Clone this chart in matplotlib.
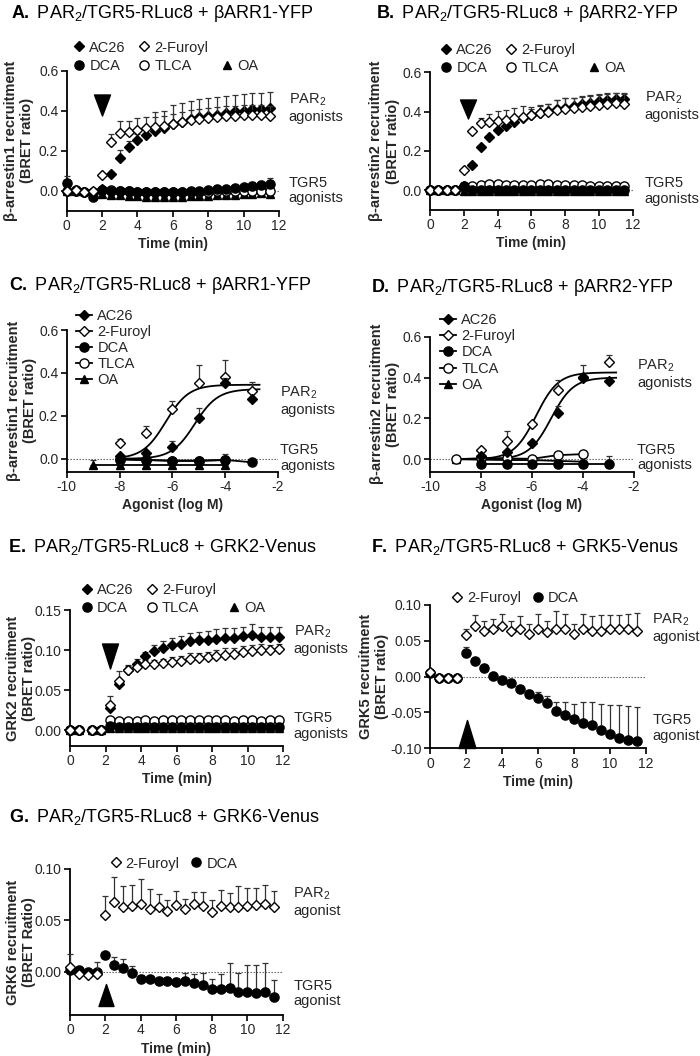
import numpy as np
import matplotlib.pyplot as plt
from matplotlib.lines import Line2D
from matplotlib.path import Path
from matplotlib.ticker import FormatStrFormatter

plt.rcParams['font.family'] = ['Liberation Sans', 'DejaVu Sans']
plt.rcParams['mathtext.fontset'] = 'custom'
plt.rcParams['mathtext.rm'] = 'Liberation Sans'
plt.rcParams['mathtext.bf'] = 'Liberation Sans:bold'
plt.rcParams['mathtext.it'] = 'Liberation Sans:italic'
plt.rcParams['axes.unicode_minus'] = False

# ---------------- data ----------------
# time points (min) for A, B, F, G
t_min = [0, 0.5, 1, 1.5, 2, 2.5, 3, 3.5, 4, 4.5, 5, 5.5,
         6, 6.5, 7, 7.5, 8, 8.5, 9, 9.5, 10, 10.5, 11, 11.5]
# time points (min) for E
t_min_e = [0, 0.5, 1.25, 1.75, 2.25, 2.75, 3.25, 3.75, 4.25, 4.75, 5.25, 5.75,
           6.25, 6.75, 7.25, 7.75, 8.25, 8.75, 9.25, 9.75, 10.25, 10.75, 11.25, 11.75]

# A: beta-arrestin1 time course
a_ac26 = [0.0, 0.0, -0.005, -0.01, 0.01, 0.085, 0.165, 0.22, 0.255, 0.28, 0.30, 0.315,
          0.335, 0.345, 0.36, 0.37, 0.375, 0.38, 0.39, 0.40, 0.40, 0.41, 0.41, 0.415]
a_ac26_err = [0, 0, 0, 0, 0, 0.01, 0.04, 0.03, 0.03, 0.03, 0.095, 0.085,
              0.095, 0.095, 0.09, 0.09, 0.09, 0.09, 0.085, 0.08, 0.085, 0.08, 0.08, 0.08]
a_furoyl = [0.0, 0.005, -0.005, -0.002, 0.078, 0.245, 0.29, 0.295, 0.305, 0.315, 0.32, 0.325,
            0.335, 0.345, 0.355, 0.36, 0.365, 0.37, 0.375, 0.375, 0.38, 0.38, 0.38, 0.375]
a_furoyl_err = [0, 0, 0, 0, 0, 0.04, 0.06, 0.055, 0.06, 0.055, 0.05, 0.05,
                0.05, 0.05, 0.05, 0.05, 0.05, 0.05, 0.05, 0.05, 0.05, 0.05, 0.05, 0.05]
a_dca = [0.04, 0.005, -0.005, -0.03, 0.005, 0.0, 0.0, 0.0, -0.005, -0.005, -0.005, -0.005,
         -0.005, -0.005, 0.0, 0.0, 0.005, 0.01, 0.01, 0.015, 0.02, 0.025, 0.03, 0.035]
a_dca_err = [0.035, 0, 0, 0, 0, 0, 0, 0, 0, 0, 0, 0,
             0, 0, 0, 0, 0, 0, 0.005, 0.008, 0.01, 0.02, 0.02, 0.03]
a_tlca = [0.0, 0.0, -0.005, -0.005, 0.005, 0.005, -0.002, -0.003, -0.005, -0.005, -0.005, -0.005,
          -0.005, -0.005, -0.005, -0.005, -0.005, -0.004, -0.003, -0.002, 0.0, 0.0, 0.0, 0.0]
a_oa = [0.0, 0.0, 0.0, -0.01, -0.015, -0.02, -0.02, -0.025, -0.025, -0.03, -0.03, -0.03,
        -0.03, -0.03, -0.025, -0.025, -0.025, -0.02, -0.02, -0.02, -0.015, -0.015, -0.01, -0.015]
a_oa_err = [0, 0, 0, 0, 0.015, 0.02, 0.02, 0.02, 0.02, 0.02, 0.02, 0.02,
            0.02, 0.02, 0.02, 0.02, 0.02, 0.02, 0.02, 0.02, 0.02, 0.02, 0.02, 0.02]

# B: beta-arrestin2 time course
b_ac26 = [0.0, 0.0, 0.0, 0.0, 0.02, 0.13, 0.22, 0.27, 0.305, 0.325, 0.345, 0.37,
          0.385, 0.395, 0.405, 0.415, 0.42, 0.43, 0.44, 0.445, 0.455, 0.46, 0.465, 0.465]
b_ac26_err = [0, 0, 0, 0, 0, 0, 0, 0, 0, 0, 0, 0,
              0.03, 0.035, 0.035, 0.045, 0.05, 0.04, 0.037, 0.04, 0.035, 0.033, 0.03, 0.032]
b_furoyl = [0.0, 0.0, 0.0, 0.0, 0.105, 0.30, 0.34, 0.345, 0.35, 0.36, 0.37, 0.375,
            0.385, 0.395, 0.40, 0.41, 0.415, 0.42, 0.425, 0.43, 0.435, 0.44, 0.445, 0.44]
b_furoyl_err = [0, 0, 0, 0, 0, 0, 0.03, 0.045, 0.055, 0.05, 0.05, 0.055,
                0.04, 0.04, 0.04, 0.05, 0.055, 0.05, 0.05, 0.05, 0.05, 0.05, 0.05, 0.05]
b_dca = [0.0, 0.0, 0.0, 0.0, 0.02, 0.002, 0.002, 0.002, 0.003, 0.002, 0.002, 0.002,
         0.002, 0.002, 0.002, 0.002, 0.002, 0.002, 0.002, 0.002, 0.002, 0.002, 0.002, 0.002]
b_tlca = [0.0, 0.0, 0.0, 0.0, 0.015, 0.02, 0.025, 0.03, 0.03, 0.025, 0.025, 0.025,
          0.025, 0.03, 0.03, 0.025, 0.025, 0.025, 0.025, 0.022, 0.022, 0.022, 0.022, 0.02]
b_oa = [0.0, 0.0, 0.0, 0.0, -0.002, -0.002, -0.002, -0.002, -0.002, -0.002, -0.002, -0.002,
        -0.002, -0.002, -0.002, -0.002, -0.002, -0.002, -0.002, -0.002, -0.002, -0.002, -0.002, -0.002]

# C, D: concentration response (log M)
c_logm = [-8, -7, -6, -5, -4, -3]
c_ac26 = [0.015, 0.028, 0.056, 0.19, 0.355, 0.277]
c_ac26_err = [0, 0, 0.028, 0.045, 0.02, 0]
c_furoyl = [0.072, 0.12, 0.23, 0.355, 0.383, 0.317]
c_furoyl_err = [0.018, 0.032, 0.04, 0.082, 0.077, 0.04]
c_dca = [0.0, -0.005, -0.01, -0.01, -0.005, -0.016]
c_dca_err = [0, 0, 0, 0, 0.027, 0]
c_logm_tlca = [-8, -7, -6, -5, -4]
c_tlca = [-0.004, -0.006, -0.008, -0.008, -0.006]
c_logm_oa = [-9, -8, -7, -6, -5, -4]
c_oa = [-0.03, -0.03, -0.03, -0.03, -0.03, -0.03]
c_oa_err = [0.024, 0.01, 0.01, 0.01, 0.01, 0.01]
c_fit_furoyl = (0.345, -6.25)   # top, logEC50
c_fit_ac26 = (0.325, -5.15)

d_logm = [-8, -7, -6, -5, -4, -3]
d_ac26 = [0.016, 0.037, 0.078, 0.225, 0.40, 0.383]
d_ac26_err = [0, 0, 0.005, 0.035, 0, 0]
d_furoyl = [0.046, 0.091, 0.173, 0.34, 0.405, 0.475]
d_furoyl_err = [0.01, 0.048, 0.01, 0.05, 0.055, 0.035]
d_dca = [-0.025, -0.025, -0.025, -0.025, -0.025, -0.025]
d_dca_err = [0, 0, 0, 0, 0, 0.04]
d_logm_tlca = [-9, -8, -7, -6, -5, -4]
d_tlca = [0.0, 0.005, 0.004, 0.002, 0.02, 0.025]
d_logm_oa = [-9, -8, -7, -6, -5, -4]
d_oa = [0.0, -0.002, -0.004, -0.004, -0.008, -0.012]
d_fit_furoyl = (0.425, -5.84)
d_fit_ac26 = (0.40, -5.25)

# E: GRK2 time course
e_ac26 = [0.0, 0.0, 0.0, 0.0, 0.027, 0.058, 0.075, 0.083, 0.092, 0.099, 0.103, 0.106,
          0.108, 0.111, 0.112, 0.113, 0.114, 0.115, 0.115, 0.117, 0.119, 0.116, 0.116, 0.116]
e_ac26_err = [0, 0, 0, 0, 0.005, 0.006, 0.006, 0.006, 0.006, 0.007, 0.008, 0.009,
              0.01, 0.01, 0.011, 0.011, 0.012, 0.012, 0.012, 0.012, 0.013, 0.013, 0.013, 0.013]
e_furoyl = [0.0, 0.0, 0.0, 0.0, 0.031, 0.061, 0.075, 0.079, 0.082, 0.083, 0.084, 0.085,
            0.086, 0.089, 0.090, 0.091, 0.093, 0.094, 0.095, 0.097, 0.099, 0.100, 0.100, 0.101]
e_furoyl_err = [0, 0, 0, 0, 0.011, 0.013, 0.005, 0.005, 0.005, 0.005, 0.005, 0.006,
                0.006, 0.007, 0.006, 0.007, 0.007, 0.008, 0.007, 0.008, 0.007, 0.007, 0.006, 0.006]
e_dca = [0.0, 0.0, 0.0, 0.0, 0.005, 0.004, 0.004, 0.004, 0.004, 0.004, 0.004, 0.004,
         0.004, 0.004, 0.004, 0.004, 0.004, 0.004, 0.004, 0.004, 0.004, 0.004, 0.004, 0.004]
e_dca_err = [0, 0, 0, 0, 0.003, 0.003, 0.003, 0.003, 0.003, 0.003, 0.003, 0.003,
             0.003, 0.003, 0.003, 0.003, 0.003, 0.003, 0.003, 0.003, 0.003, 0.003, 0.003, 0.003]
e_tlca = [0.0, 0.0, 0.0, 0.0, 0.013, 0.011, 0.011, 0.011, 0.012, 0.011, 0.012, 0.012,
          0.013, 0.012, 0.012, 0.012, 0.012, 0.012, 0.011, 0.012, 0.013, 0.011, 0.012, 0.012]
e_oa = [0.0, 0.0, 0.0, 0.0, 0.002, 0.002, 0.002, 0.002, 0.002, 0.002, 0.002, 0.002,
        0.002, 0.002, 0.002, 0.002, 0.002, 0.002, 0.002, 0.002, 0.002, 0.002, 0.002, 0.002]

# F: GRK5 time course
f_furoyl = [0.007, -0.0015, -0.0015, -0.0015, 0.058, 0.070, 0.064, 0.066, 0.070, 0.064, 0.066, 0.060,
            0.067, 0.063, 0.067, 0.066, 0.060, 0.066, 0.064, 0.064, 0.066, 0.066, 0.067, 0.064]
f_furoyl_err = [0, 0, 0, 0, 0.008, 0.016, 0.013, 0.015, 0.018, 0.014, 0.018, 0.014,
                0.02, 0.014, 0.025, 0.022, 0.014, 0.022, 0.02, 0.022, 0.02, 0.02, 0.02, 0.025]
f_dca = [0.005, -0.002, -0.002, -0.002, 0.0327, 0.022, 0.0117, 0.001, -0.0046, -0.0084, -0.0177, -0.024,
         -0.030, -0.037, -0.0475, -0.0535, -0.0595, -0.065, -0.0675, -0.075, -0.080, -0.085, -0.088, -0.090]
f_dca_err = [0, 0, 0, 0, 0.008, 0.003, 0.003, 0.003, 0.003, 0.004, 0.004, 0.006,
             0.008, 0.01, 0.012, 0.018, 0.022, 0.03, 0.032, 0.037, 0.04, 0.045, 0.047, 0.048]

# G: GRK6 time course
g_furoyl = [0.005, -0.002, -0.003, -0.002, 0.055, 0.068, 0.063, 0.064, 0.066, 0.061, 0.063, 0.059,
            0.065, 0.061, 0.066, 0.064, 0.058, 0.064, 0.063, 0.063, 0.064, 0.065, 0.066, 0.063]
g_furoyl_err = [0.012, 0, 0, 0.012, 0.019, 0.024, 0.02, 0.02, 0.024, 0.02, 0.013, 0.011,
                0.014, 0.01, 0.012, 0.014, 0.012, 0.016, 0.014, 0.02, 0.018, 0.017, 0.018, 0.016]
g_dca = [0.002, 0.0013, 0.0, 0.0, 0.0165, 0.0068, 0.0036, -0.0013, -0.0065, -0.007, -0.0087, -0.0087,
         -0.010, -0.0087, -0.0105, -0.0126, -0.0168, -0.0168, -0.016, -0.020, -0.020, -0.0207, -0.020, -0.0246]
g_dca_err = [0, 0, 0, 0, 0, 0.008, 0.009, 0.007, 0.003, 0.003, 0.004, 0.004,
             0.004, 0.008, 0.008, 0.011, 0.01, 0.015, 0.025, 0.019, 0.027, 0.027, 0.029, 0.017]

# ---------------- styles ----------------
STY = {
    'AC26': dict(marker='D', mfc='k', ms=5.0),
    '2-Furoyl': dict(marker='D', mfc='white', ms=5.0),
    'DCA': dict(marker='o', mfc='k', ms=6.6),
    'TLCA': dict(marker='o', mfc='white', ms=6.6),
    'OA': dict(marker='^', mfc='k', ms=6.3),
}
TXT = '#262626'
W, H = 700, 1056

fig = plt.figure(figsize=(7, 10.56), dpi=100)


def add_ax(left, right, top, bottom):
    return fig.add_axes([left / W, 1 - bottom / H, (right - left) / W, (bottom - top) / H])


def style(ax, xlim, ylim, xticks, yticks, yfmt):
    ax.set_xlim(*xlim)
    ax.set_ylim(*ylim)
    ax.set_xticks(xticks)
    ax.set_yticks(yticks)
    ax.yaxis.set_major_formatter(FormatStrFormatter(yfmt))
    for s in ['top', 'right']:
        ax.spines[s].set_visible(False)
    for s in ['left', 'bottom']:
        ax.spines[s].set_linewidth(1.3)
    ax.tick_params(direction='out', length=4, width=1.2, pad=2, labelsize=10, labelcolor=TXT)
    ax.axhline(0, color='#555', lw=0.8, ls=(0, (1.2, 1.5)), zorder=0)


def series(ax, x, y, err=None, name='AC26', both=False, z=3, line=False):
    x = np.asarray(x, float)
    y = np.asarray(y, float)
    if err is not None:
        e = np.asarray(err, float)
        m = e > 0
        lo = e[m] if both else np.zeros(m.sum())
        ax.errorbar(x[m], y[m], yerr=[lo, e[m]], fmt='none', ecolor='#333',
                    elinewidth=0.9, capsize=2.4, capthick=0.9, zorder=z - 0.5, clip_on=False)
    ax.plot(x, y, ls='-' if line else 'none', color='k', lw=1.3, mec='k', mew=1,
            zorder=z, clip_on=False, **STY[name])


def hill(ax, params, lo, hi, z=2):
    top, ec50 = params
    xs = np.linspace(lo, hi, 200)
    ax.plot(xs, top / (1 + 10 ** (ec50 - xs)), color='k', lw=1.3, zorder=z)


def stim(ax, x, y, h_px, w_px, up=False):
    s = 1 if up else -1
    verts = [(-w_px / 2, -s * h_px / 2), (w_px / 2, -s * h_px / 2), (0, s * h_px / 2), (-w_px / 2, -s * h_px / 2)]
    path = Path(verts, [Path.MOVETO, Path.LINETO, Path.LINETO, Path.CLOSEPOLY])
    ax.plot([x], [y], marker=path, ms=max(h_px, w_px) * 0.72, color='k', ls='none',
            zorder=6, clip_on=False)


def side_labels(ax, x, y_par, y_tgr, plural=True):
    word = 'agonists' if plural else 'agonist'
    kw = dict(transform=ax.transAxes, ha='left', va='center', fontsize=10.5, color=TXT,
              linespacing=1.15)
    ax.text(x, y_par, 'PAR$_2$\n' + word, **kw)
    ax.text(x, y_tgr, 'TGR5\n' + word, **kw)


def title(x_px, y_px, letter, rest):
    fig.text(x_px / W, 1 - y_px / H, r'$\mathbf{' + letter + r'.}$ PAR$_2$/TGR5-RLuc8 + ' + rest,
             ha='left', va='center', fontsize=13, color='k')


def handle(name, line=False):
    return Line2D([], [], ls='-' if line else 'none', color='k', lw=1.3, mec='k', mew=1, **STY[name])


blank = Line2D([], [], ls='none')
leg_kw = dict(frameon=False, fontsize=10.5, borderpad=0, borderaxespad=0, loc='upper left',
              handletextpad=0.35, labelcolor=TXT)


def legend5(ax, xy):
    hs = [handle('AC26'), handle('DCA'), handle('2-Furoyl'), handle('TLCA'), blank, handle('OA')]
    ls = ['AC26', 'DCA', '2-Furoyl', 'TLCA', '', 'OA']
    ax.legend(hs, ls, ncol=3, bbox_to_anchor=xy, handlelength=0.7, columnspacing=0.9,
              labelspacing=0.3, **leg_kw)


def legend_dr(ax, xy):
    names = ['AC26', '2-Furoyl', 'DCA', 'TLCA', 'OA']
    ax.legend([handle(n, True) for n in names], names, bbox_to_anchor=xy, handlelength=1.1,
              labelspacing=0.15, **leg_kw)


def legend2(ax, xy):
    ax.legend([handle('2-Furoyl'), handle('DCA')], ['2-Furoyl', 'DCA'], ncol=2, bbox_to_anchor=xy,
              handlelength=0.7, columnspacing=0.8, **leg_kw)


ylab_kw = dict(fontsize=10.5, fontweight='bold', linespacing=1.2, color=TXT)
xlab_kw = dict(fontsize=10, fontweight='bold', labelpad=3, color=TXT)
time_ticks = [0, 2, 4, 6, 8, 10, 12]

# ---------------- A ----------------
ax = add_ax(66.7, 279, 70.7, 210.7)
style(ax, (0, 12), (-0.1, 0.6), time_ticks, [0.0, 0.2, 0.4, 0.6], '%.1f')
series(ax, t_min, a_oa, a_oa_err, 'OA', z=3)
series(ax, t_min, a_tlca, None, 'TLCA', z=4)
series(ax, t_min, a_dca, a_dca_err, 'DCA', z=5)
series(ax, t_min, a_ac26, a_ac26_err, 'AC26', z=6)
series(ax, t_min, a_furoyl, a_furoyl_err, '2-Furoyl', z=7)
stim(ax, 2, 0.43, 21, 16)
ax.set_ylabel('β-arrestin1 recruitment\n(BRET ratio)', **ylab_kw)
ax.yaxis.set_label_coords(-0.155, 0.5)
ax.set_xlabel('Time (min)', **xlab_kw)
legend5(ax, (0.035, 1.215))
side_labels(ax, 1.045, 0.735, 0.145)
title(11, 14, 'A', 'βARR1-YFP')

# ---------------- B ----------------
ax = add_ax(430, 632.7, 72.3, 210)
style(ax, (0, 12), (-0.1, 0.6), time_ticks, [0.0, 0.2, 0.4, 0.6], '%.1f')
series(ax, t_min, b_oa, None, 'OA', z=3)
series(ax, t_min, b_tlca, None, 'TLCA', z=4)
series(ax, t_min, b_dca, None, 'DCA', z=5)
series(ax, t_min, b_ac26, b_ac26_err, 'AC26', z=6)
series(ax, t_min, b_furoyl, b_furoyl_err, '2-Furoyl', z=7)
stim(ax, 2.25, 0.414, 19, 16)
ax.set_ylabel('β-arrestin2 recruitment\n(BRET ratio)', **ylab_kw)
ax.yaxis.set_label_coords(-0.15, 0.5)
ax.set_xlabel('Time (min)', **xlab_kw)
legend5(ax, (0.055, 1.215))
side_labels(ax, 1.06, 0.755, 0.14)
title(376, 14, 'B', 'βARR2-YFP')

# ---------------- C ----------------
ax = add_ax(66.7, 278, 330, 471.7)
style(ax, (-10, -2), (-0.06, 0.6), [-10, -8, -6, -4, -2], [0.0, 0.2, 0.4, 0.6], '%.1f')
hill(ax, c_fit_furoyl, -8, -2.7)
hill(ax, c_fit_ac26, -8, -2.7)
series(ax, c_logm_oa, c_oa, c_oa_err, 'OA', z=3, line=True)
series(ax, c_logm_tlca, c_tlca, None, 'TLCA', z=4, line=True)
series(ax, c_logm, c_dca, c_dca_err, 'DCA', z=5, line=True)
series(ax, c_logm, c_furoyl, c_furoyl_err, '2-Furoyl', z=6)
series(ax, c_logm, c_ac26, c_ac26_err, 'AC26', z=7)
ax.set_ylabel('β-arrestin1 recruitment\n(BRET ratio)', **ylab_kw)
ax.yaxis.set_label_coords(-0.14, 0.5)
ax.set_xlabel('Agonist (log M)', **xlab_kw)
legend_dr(ax, (0.045, 1.15))
side_labels(ax, 1.01, 0.5, 0.095)
title(9, 286, 'C', 'βARR1-YFP')

# ---------------- D ----------------
ax = add_ax(430, 634, 336.7, 471.7)
style(ax, (-10, -2), (-0.061, 0.6), [-10, -8, -6, -4, -2], [0.0, 0.2, 0.4, 0.6], '%.1f')
hill(ax, d_fit_furoyl, -8, -2.7)
hill(ax, d_fit_ac26, -8, -2.7)
series(ax, d_logm_oa, d_oa, None, 'OA', z=3, line=True)
series(ax, d_logm_tlca, d_tlca, None, 'TLCA', z=4, line=True)
series(ax, d_logm, d_dca, d_dca_err, 'DCA', z=5, line=True)
series(ax, d_logm, d_furoyl, d_furoyl_err, '2-Furoyl', z=6)
series(ax, d_logm, d_ac26, d_ac26_err, 'AC26', z=7)
ax.set_ylabel('β-arrestin2 recruitment\n(BRET ratio)', **ylab_kw)
ax.yaxis.set_label_coords(-0.147, 0.5)
ax.set_xlabel('Agonist (log M)', **xlab_kw)
legend_dr(ax, (0.05, 1.175))
side_labels(ax, 1.015, 0.725, 0.105)
title(371, 287, 'D', 'βARR2-YFP')

# ---------------- E ----------------
ax = add_ax(70, 283, 610, 746)
style(ax, (0, 12), (-0.02, 0.15), time_ticks, [0.0, 0.05, 0.10, 0.15], '%.2f')
series(ax, t_min_e, e_oa, e_dca_err, 'OA', both=True, z=3)
series(ax, t_min_e, e_tlca, None, 'TLCA', z=4)
series(ax, t_min_e, e_dca, e_dca_err, 'DCA', both=True, z=5)
series(ax, t_min_e, e_ac26, e_ac26_err, 'AC26', z=6)
series(ax, t_min_e, e_furoyl, e_furoyl_err, '2-Furoyl', z=7)
stim(ax, 2.25, 0.0925, 25, 16)
ax.set_ylabel('GRK2 recruitment\n(BRET ratio)', **ylab_kw)
ax.yaxis.set_label_coords(-0.16, 0.5)
ax.set_xlabel('Time (min)', **xlab_kw)
legend5(ax, (0.055, 1.2))
side_labels(ax, 1.05, 0.78, 0.147)
title(8, 547, 'E', 'GRK2-Venus')

# ---------------- F ----------------
ax = add_ax(430, 646, 605, 748.3)
style(ax, (0, 12), (-0.1, 0.1), time_ticks, [-0.10, -0.05, 0.0, 0.05, 0.10], '%.2f')
series(ax, t_min, f_dca, f_dca_err, 'DCA', z=4)
series(ax, t_min, f_furoyl, f_furoyl_err, '2-Furoyl', z=5)
stim(ax, 2.05, -0.080, 28, 17, up=True)
ax.set_ylabel('GRK5 recruitment\n(BRET ratio)', **ylab_kw)
ax.yaxis.set_label_coords(-0.19, 0.5)
ax.set_xlabel('Time (min)', **xlab_kw)
legend2(ax, (0.1, 1.1))
side_labels(ax, 1.03, 0.84, 0.14, plural=False)
title(371, 547, 'F', 'GRK5-Venus')

# ---------------- G ----------------
ax = add_ax(70, 282.7, 869, 1015)
style(ax, (0, 12), (-0.042, 0.10), time_ticks, [0.0, 0.05, 0.10], '%.2f')
series(ax, t_min, g_dca, g_dca_err, 'DCA', z=4)
series(ax, t_min, g_furoyl, g_furoyl_err, '2-Furoyl', z=5)
stim(ax, 2.05, -0.023, 22, 15, up=True)
ax.set_ylabel('GRK6 recruitment\n(BRET Ratio)', **ylab_kw)
ax.yaxis.set_label_coords(-0.16, 0.5)
ax.set_xlabel('Time (min)', **xlab_kw)
legend2(ax, (0.19, 1.085))
side_labels(ax, 1.05, 0.777, 0.147, plural=False)
title(9, 817, 'G', 'GRK6-Venus')

fig.savefig('out.png', dpi=100)
